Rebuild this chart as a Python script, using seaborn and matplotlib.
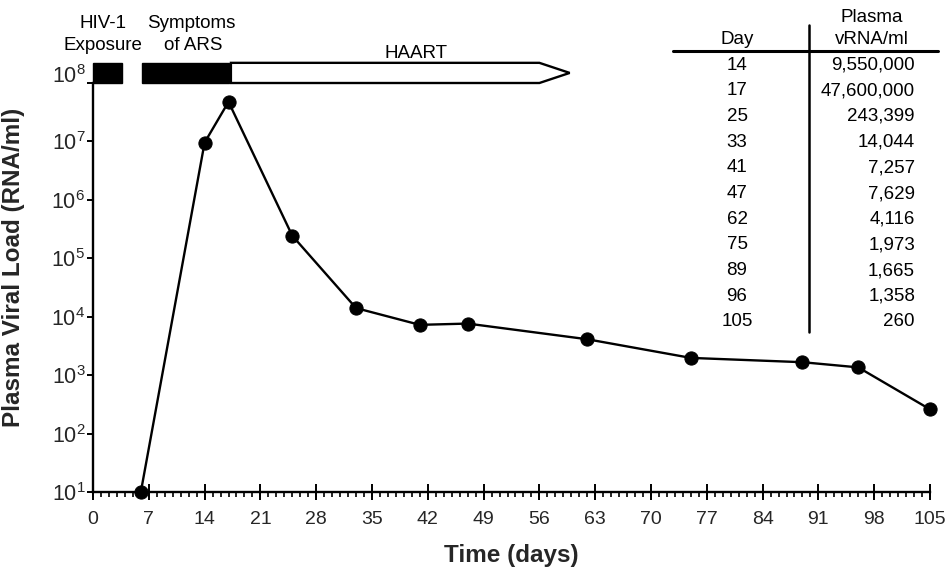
import numpy as np
import pandas as pd
import matplotlib
matplotlib.use("Agg")
import matplotlib.pyplot as plt
import seaborn as sns
from matplotlib.patches import Rectangle, Polygon
from matplotlib.lines import Line2D
from matplotlib.ticker import FixedLocator, MultipleLocator, FuncFormatter

# ---------------- data ----------------
days = [6, 14, 17, 25, 33, 41, 47, 62, 75, 89, 96, 105]
viral_load = [10, 9550000, 47600000, 243399, 14044, 7257, 7629, 4116, 1973, 1665, 1358, 260]

table_days = [14, 17, 25, 33, 41, 47, 62, 75, 89, 96, 105]
table_vals = [9550000, 47600000, 243399, 14044, 7257, 7629, 4116, 1973, 1665, 1358, 260]

x_ticks = [0, 7, 14, 21, 28, 35, 42, 49, 56, 63, 70, 77, 84, 91, 98, 105]
y_exponents = [1, 2, 3, 4, 5, 6, 7, 8]

exposure_span = (0, 3.6)
ars_span = (6.2, 17)
haart_span = (17, 56, 59.8)   # start, body end, arrow tip

# ---------------- style ----------------
sns.set_style("ticks")
plt.rcParams["font.family"] = ["Liberation Sans", "DejaVu Sans"]
plt.rcParams["mathtext.default"] = "regular"

W, H = 952, 577
fig = plt.figure(figsize=(W / 100, H / 100), dpi=100)
ax_l, ax_r, ax_t, ax_b = 93, 930, 83, 492
ax = fig.add_axes([ax_l / W, 1 - ax_b / H, (ax_r - ax_l) / W, (ax_b - ax_t) / H])

df = pd.DataFrame({"day": days, "load": viral_load})
sns.lineplot(data=df, x="day", y="load", ax=ax, color="black", linewidth=1.7,
             marker="o", markersize=9.5, markeredgecolor="black",
             markerfacecolor="black", clip_on=False)

ax.set_yscale("log")
ax.set_xlim(0, 105)
ax.set_ylim(10, 1e8)

for s in ["top", "right"]:
    ax.spines[s].set_visible(False)
for s in ["left", "bottom"]:
    ax.spines[s].set_linewidth(1.7)
    ax.spines[s].set_color("black")

ax.xaxis.set_major_locator(FixedLocator(x_ticks))
ax.xaxis.set_minor_locator(MultipleLocator(1))
ax.xaxis.remove_overlapping_locs = False
ax.tick_params(axis="x", which="major", direction="inout", length=11, width=1.4,
               labelsize=14, pad=8, color="black")
ax.tick_params(axis="x", which="minor", direction="out", length=3.5, width=1.2,
               color="black")

y_ticks = [10.0 ** e for e in y_exponents]
top_exp = max(y_exponents)


def ylab(v, pos):
    e = int(round(np.log10(v)))
    if e == top_exp:
        return ""
    return r"$10^{%d}$" % e


ax.yaxis.set_major_locator(FixedLocator(y_ticks))
ax.yaxis.set_minor_locator(FixedLocator([]))
ax.yaxis.set_major_formatter(FuncFormatter(ylab))
ax.tick_params(axis="y", which="major", direction="out", length=4.5, width=1.4,
               labelsize=15.5, pad=1, color="black")
# top label sits slightly raised in the reference
ax.annotate(r"$10^{%d}$" % top_exp, xy=(0, 10.0 ** top_exp),
            xycoords=ax.get_yaxis_transform(), xytext=(-5.5, 5),
            textcoords="offset points", ha="right", va="center", fontsize=15.5,
            annotation_clip=False)

ax.set_xlabel("Time (days)", fontsize=17.5, fontweight="bold", labelpad=12)
ax.set_ylabel("Plasma Viral Load (RNA/ml)", fontsize=17.5, fontweight="bold")
ax.yaxis.set_label_coords(-0.081, 0.55)

# ---------------- timeline bars ----------------
bar_lo, bar_hi = 1e8, 10 ** 8.345
bar_mid = 10 ** ((8 + 8.345) / 2)
ax.add_patch(Rectangle((exposure_span[0], bar_lo), exposure_span[1] - exposure_span[0],
                       bar_hi - bar_lo, facecolor="black", edgecolor="black",
                       clip_on=False, zorder=3))
ax.add_patch(Rectangle((ars_span[0], bar_lo), ars_span[1] - ars_span[0],
                       bar_hi - bar_lo, facecolor="black", edgecolor="black",
                       clip_on=False, zorder=3))
h0, h1, h2 = haart_span
ax.add_patch(Polygon([(h0 + 0.3, bar_hi), (h1, bar_hi), (h2, bar_mid), (h1, bar_lo),
                      (h0 + 0.3, bar_lo)], closed=True, facecolor="white",
                     edgecolor="black", linewidth=1.7, clip_on=False, zorder=3))


def ftext(px, py, s, **kw):
    fig.text(px / W, 1 - py / H, s, va="center", fontsize=13.5, color="black", **kw)


ftext(103, 24, "HIV-1", ha="center")
ftext(103, 46, "Exposure", ha="center")
ftext(191, 24, "Symptoms", ha="center")
ftext(193, 46, "of ARS", ha="center")
ftext(416, 54, "HAART", ha="center")

# ---------------- table ----------------
ftext(737, 39, "Day", ha="center")
ftext(872, 17, "Plasma", ha="center")
ftext(872, 39, "vRNA/ml", ha="center")
fig.add_artist(Line2D([673 / W, 938 / W], [1 - 51 / H, 1 - 51 / H], color="black",
                      linewidth=2.2, transform=fig.transFigure))
fig.add_artist(Line2D([809 / W, 809 / W], [1 - 25 / H, 1 - 332 / H], color="black",
                      linewidth=1.8, transform=fig.transFigure))
row0, row_step = 65, 25.7
for i, (d, v) in enumerate(zip(table_days, table_vals)):
    y = row0 + i * row_step
    ftext(737, y, str(d), ha="center")
    ftext(915, y, f"{v:,}", ha="right")

fig.savefig("out.png", dpi=100)
